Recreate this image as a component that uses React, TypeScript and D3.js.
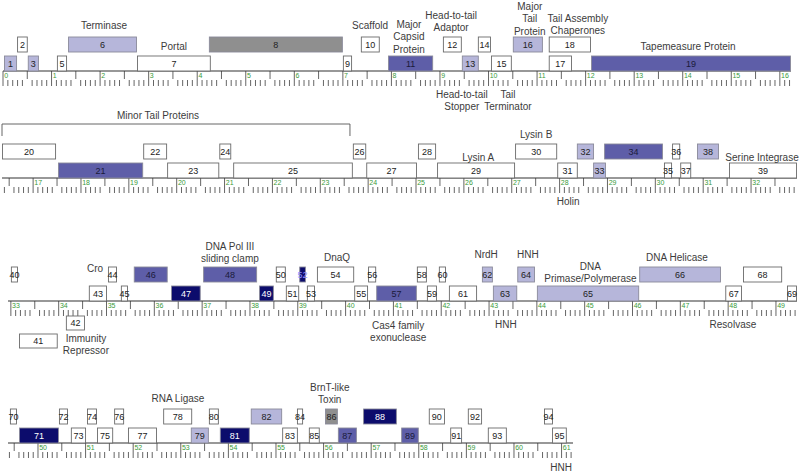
import React from "react";
import * as d3 from "d3";

// ---- Data (kb) ----
const rowStartKb = [0, 16.35, 32.94, 49.37];
const rowEndKb = [16.23, 32.96, 49.44, 61.24];

const geneIds = [1, 2, 3, 5, 6, 7, 8, 9, 10, 11, 12, 13, 14, 15, 16, 17, 18, 19,
  20, 21, 22, 23, 24, 25, 26, 27, 28, 29, 30, 31, 32, 33, 34, 35, 36, 37, 38, 39,
  40, 41, 42, 43, 44, 45, 46, 47, 48, 49, 50, 51, 52, 53, 54, 55, 56, 57, 58, 59,
  60, 61, 62, 63, 64, 65, 66, 67, 68, 69,
  70, 71, 72, 73, 74, 75, 76, 77, 78, 79, 80, 81, 82, 83, 84, 85, 86, 87, 88, 89,
  90, 91, 92, 93, 94, 95];

const geneStarts = [0.02, 0.29, 0.51, 1.11, 1.34, 2.76, 4.24, 7.0, 7.37, 7.93, 9.06, 9.45, 9.78, 10.05, 10.5, 11.24, 11.24, 12.11,
  16.35, 17.52, 19.3, 19.8, 20.89, 21.18, 23.68, 23.96, 25.04, 25.44, 27.07, 27.95, 28.36, 28.7, 28.93, 30.18, 30.35, 30.52, 30.87, 31.54,
  33.0, 33.17, 34.15, 34.63, 35.03, 35.3, 35.57, 36.35, 37.02, 38.19, 38.54, 38.75, 39.03, 39.19, 39.4, 40.18, 40.47, 40.64, 41.49, 41.7,
  41.95, 42.16, 42.85, 43.08, 43.59, 44.0, 46.14, 47.94, 48.31, 49.23,
  49.41, 49.6, 50.44, 50.69, 51.03, 51.24, 51.6, 51.89, 52.63, 53.21, 53.59, 53.82, 54.47, 55.13, 55.44, 55.69, 56.03, 56.3, 56.83, 57.63,
  58.21, 58.66, 59.03, 59.45, 60.63, 60.8];

const geneEnds = [0.29, 0.51, 0.74, 1.32, 2.76, 4.28, 7.0, 7.19, 7.76, 8.86, 9.45, 9.8, 10.05, 10.48, 11.12, 11.72, 12.11, 16.23,
  17.48, 19.3, 19.8, 20.89, 21.14, 23.68, 23.96, 25.02, 25.42, 27.07, 27.95, 28.38, 28.72, 28.97, 30.16, 30.35, 30.52, 30.75, 31.33, 32.96,
  33.15, 33.98, 34.55, 35.01, 35.22, 35.45, 36.28, 36.97, 38.15, 38.5, 38.75, 39.03, 39.17, 39.36, 40.18, 40.47, 40.64, 41.49, 41.7, 41.91,
  42.1, 42.75, 43.08, 43.59, 43.96, 46.14, 47.85, 48.29, 49.13, 49.44,
  49.56, 50.44, 50.63, 51.01, 51.24, 51.58, 51.81, 52.5, 53.24, 53.59, 53.8, 54.45, 55.13, 55.46, 55.57, 55.92, 56.3, 56.7, 57.54, 58.0,
  58.55, 58.91, 59.33, 59.85, 60.82, 61.11];

// 1 = forward, next to ruler; 2 = forward, outer; -1 = reverse, next to ruler; -2 = reverse, outer
const geneTracks = [1, 2, 1, 1, 2, 1, 2, 1, 2, 1, 2, 1, 2, 1, 2, 1, 2, 1,
  2, 1, 2, 1, 2, 1, 2, 1, 2, 1, 2, 1, 2, 1, 2, 1, 2, 1, 2, 1,
  2, -2, -1, 1, 2, 1, 2, 1, 2, 1, 2, 1, 2, 1, 2, 1, 2, 1, 2, 1,
  2, 1, 2, 1, 2, 1, 2, 1, 2, 1,
  2, 1, 2, 1, 2, 1, 2, 1, 2, 1, 2, 1, 2, 1, 2, 1, 2, 1, 2, 1,
  2, 1, 2, 1, 2, 1];

// function class: none, light, dark, navy, grey
const geneClasses = ["light", "none", "light", "none", "light", "none", "grey", "none", "none", "dark", "none", "light", "none", "none", "light", "none", "none", "dark",
  "none", "dark", "none", "none", "none", "none", "none", "none", "none", "none", "none", "none", "light", "light", "dark", "none", "none", "none", "light", "none",
  "none", "none", "none", "none", "none", "none", "dark", "navy", "dark", "navy", "none", "none", "navy", "none", "none", "none", "none", "dark", "none", "none",
  "none", "none", "light", "light", "light", "light", "light", "none", "none", "none",
  "none", "navy", "none", "none", "none", "none", "none", "none", "none", "light", "none", "navy", "light", "none", "none", "none", "grey", "dark", "navy", "dark",
  "none", "none", "none", "none", "none", "none"];

const annotationTexts = [
  "Terminase", "Portal", "Scaffold", "Major|Capsid|Protein", "Head-to-tail|Adaptor",
  "Major|Tail|Protein", "Tail Assembly|Chaperones", "Tapemeasure Protein",
  "Head-to-tail|Stopper", "Tail|Terminator",
  "Minor Tail Proteins", "Lysin A", "Lysin B", "Holin", "Serine Integrase",
  "Cro", "DNA Pol III|sliding clamp", "DnaQ", "Immunity|Repressor", "Cas4 family|exonuclease",
  "NrdH", "HNH", "DNA|Primase/Polymerase", "DNA Helicase", "HNH", "Resolvase",
  "RNA Ligase", "BrnT-like|Toxin", "HNH"];
const annotationKb = [
  2.08, 3.52, 7.56, 8.36, 9.23,
  10.85, 11.84, 14.11,
  9.45, 10.4,
  19.61, 26.3, 27.51, 28.18, 32.23,
  34.76, 37.58, 39.82, 34.57, 41.1,
  42.94, 43.81, 45.12, 46.93, 43.35, 48.1,
  52.94, 56.13, 60.99];

const bracketStartKb = [16.35];
const bracketEndKb = [23.62];

// ---- Layout ----
const W = 800;
const H = 472;
const rowY = [71, 178, 301, 443];
const rowX = [[3, 791], [2, 797], [8, 797], [8, 573]];
// vertical centre of first text line, relative to ruler line
const annotationDy = [
  -46, -25, -46, -47, -56,
  -65, -53, -25,
  23, 23,
  -63, -21, -44, 23, -21,
  -33, -55, -44, 37, 24,
  -47, -47, -35, -44, 23, 23,
  -45, -56, 24];
const lineH = 12.5;

const fills: Record<string, string> = {
  none: "#ffffff",
  light: "#b6b6da",
  dark: "#5e5ea8",
  navy: "#0c0c6c",
  grey: "#8f8f8f",
};
const textFills: Record<string, string> = {
  none: "#222",
  light: "#222",
  dark: "#1a1a3a",
  navy: "#ffffff",
  grey: "#222",
};

const FONT = "'Liberation Sans', Arial, Helvetica, sans-serif";

function rowOf(kb: number) {
  let r = 0;
  for (let i = 0; i < rowStartKb.length; i++) if (kb >= rowStartKb[i] - 1e-6) r = i;
  return r;
}

const scales = rowStartKb.map((s, i) =>
  d3.scaleLinear().domain([s, rowEndKb[i]]).range(rowX[i])
);

function trackBox(track: number, y: number) {
  if (track === 1) return { y0: y - 15, h: 15 };
  if (track === 2) return { y0: y - 34, h: 15 };
  if (track === -1) return { y0: y + 15, h: 14 };
  return { y0: y + 33, h: 14 };
}

function Ruler({ r }: { r: number }) {
  const sc = scales[r];
  const y = rowY[r];
  const ticks = d3.range(Math.ceil(rowStartKb[r] * 10 - 1e-6), Math.floor(rowEndKb[r] * 10 + 1e-6) + 1);
  return (
    <g>
      {ticks.map((k) => {
        const x = sc(k / 10);
        if (k % 10 === 0) {
          return (
            <g key={k}>
              <line x1={x} x2={x} y1={y} y2={y + 15} stroke="#555" strokeWidth={0.9} />
              <text x={x + 1.2} y={y + 6.5} fontSize={7} fill="#3a9a3a" fontFamily={FONT}>
                {k / 10}
              </text>
            </g>
          );
        }
        if (k % 5 === 0) {
          return <line key={k} x1={x} x2={x} y1={y} y2={y + 8} stroke="#555" strokeWidth={0.9} />;
        }
        return <line key={k} x1={x} x2={x} y1={y + 9} y2={y + 15} stroke="#555" strokeWidth={0.9} />;
      })}
      <line x1={rowX[r][0]} x2={rowX[r][1]} y1={y} y2={y} stroke="#333" strokeWidth={1.2} />
    </g>
  );
}

export default function App() {
  return (
    <svg
      width={W}
      height={H}
      viewBox={`0 0 ${W} ${H}`}
      style={{ position: "absolute", left: 0, top: 0, background: "#fff" }}
    >
      <rect x={0} y={0} width={W} height={H} fill="#fff" />
      {rowStartKb.map((_, r) => (
        <Ruler key={r} r={r} />
      ))}
      {geneIds.map((id, i) => {
        const r = rowOf(geneStarts[i]);
        const sc = scales[r];
        const x0 = sc(geneStarts[i]);
        const x1 = sc(geneEnds[i]);
        const { y0, h } = trackBox(geneTracks[i], rowY[r]);
        const cls = geneClasses[i];
        return (
          <g key={id}>
            <rect
              x={x0 + 0.5}
              y={y0}
              width={Math.max(1, x1 - x0 - 1)}
              height={h}
              fill={fills[cls]}
              stroke={cls === "none" ? "#6a6a6a" : "#8a8a9a"}
              strokeWidth={0.9}
            />
            <text
              x={(x0 + x1) / 2}
              y={y0 + h / 2 + 3.2}
              textAnchor="middle"
              fontSize={9}
              fill={id === 52 ? "#8c8cff" : textFills[cls]}
              fontFamily={FONT}
            >
              {id}
            </text>
          </g>
        );
      })}
      {bracketStartKb.map((s, i) => {
        const r = rowOf(s);
        const sc = scales[r];
        const y = rowY[r];
        const xa = sc(s);
        const xb = sc(bracketEndKb[i]);
        return (
          <path
            key={i}
            d={`M${xa},${y - 42} V${y - 54} H${xb} V${y - 42}`}
            fill="none"
            stroke="#555"
            strokeWidth={0.9}
          />
        );
      })}
      {annotationTexts.map((t, i) => {
        const r = rowOf(annotationKb[i]);
        const x = scales[r](annotationKb[i]);
        const yc = rowY[r] + annotationDy[i];
        return (
          <text
            key={i}
            textAnchor="middle"
            fontSize={10}
            fill="#3c3c3c"
            fontFamily={FONT}
          >
            {t.split("|").map((ln, j) => (
              <tspan key={j} x={x} y={yc + j * lineH + 3.5}>
                {ln}
              </tspan>
            ))}
          </text>
        );
      })}
    </svg>
  );
}
